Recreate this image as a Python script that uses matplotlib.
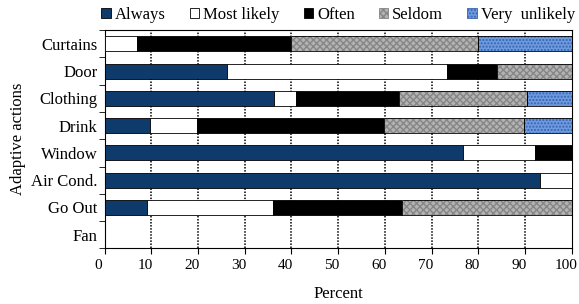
import matplotlib
matplotlib.use("Agg")
import matplotlib.pyplot as plt
import matplotlib.transforms as mtransforms
import numpy as np
from matplotlib.patches import Patch

plt.rcParams['font.family'] = ['Liberation Serif', 'DejaVu Serif']

categories = ["Curtains", "Door", "Clothing", "Drink", "Window", "Air Cond.", "Go Out", "Fan"]
series_names = ["Always", "Most likely", "Often", "Seldom", "Very  unlikely"]
always       = [0, 26.3, 36.3, 9.8, 76.7, 93.1, 9.0, 0]
most_likely  = [7.0, 47.1, 4.6, 9.9, 15.4, 6.9, 27.1, 0]
often        = [33.0, 10.7, 22.2, 40.2, 7.9, 0, 27.5, 0]
seldom       = [40.0, 15.9, 27.3, 29.9, 0, 0, 36.4, 0]
very_unlikely= [20.0, 0, 9.6, 10.2, 0, 0, 0, 0]
xticks = [0, 10, 20, 30, 40, 50, 60, 70, 80, 90, 100]

series = [always, most_likely, often, seldom, very_unlikely]
faces = ['#0e3a6c', 'white', 'black', '#b3b3b3', '#6d9be0']
hatches = [None, None, None, 'xxxxx', '.....']
hcolors = [None, None, None, '#868686', '#3a62ae']

fig = plt.figure(figsize=(5.79, 3.04), dpi=100)
ax = fig.add_axes([0.1805, 0.183, 0.807, 0.718])

y = np.arange(len(categories))
left = np.zeros(len(categories))
h = 0.55
for vals, fc, ht, hc in zip(series, faces, hatches, hcolors):
    vals = np.array(vals)
    if ht:
        ax.barh(y, vals, left=left, height=h, color=fc, hatch=ht, edgecolor=hc, linewidth=0, zorder=3)
        ax.barh(y, vals, left=left, height=h, facecolor='none', edgecolor='black', linewidth=0.6, zorder=4)
    else:
        ax.barh(y, vals, left=left, height=h, color=fc, edgecolor='black', linewidth=0.6, zorder=3)
    left += vals

for xv in xticks[1:-1]:
    ax.axvline(xv, color='black', linestyle=(0, (1, 1.0)), linewidth=1.1, zorder=1)

ax.set_xlim(0, 100)
ax.set_ylim(len(categories) - 0.5, -0.5)
ax.set_xticks(xticks)
ax.set_xticklabels([])
offset = mtransforms.ScaledTranslation(-6 / 100, -11 / 100, fig.dpi_scale_trans)
trans = ax.get_xaxis_transform() + offset
for v in xticks:
    ax.text(v, 0, str(v), transform=trans, ha='center', va='top', fontsize=11, clip_on=False)
ax.set_yticks(y)
ax.set_yticklabels(categories, fontsize=12)
ax.tick_params(axis='y', length=0, pad=5)
ax.set_yticks(np.arange(-0.5, len(categories) + 0.5, 1), minor=True)
ax.tick_params(axis='y', which='minor', length=4, direction='out')
ax.tick_params(axis='x', length=4, direction='out', pad=5)
for s in ax.spines.values():
    s.set_linewidth(0.8)
ax.set_xlabel("Percent", fontsize=12, labelpad=18)
ax.set_ylabel("Adaptive actions", fontsize=12, labelpad=4)

handles = []
for fc, ht, hc in zip(faces, hatches, hcolors):
    handles.append(Patch(facecolor=fc, edgecolor='black' if not ht else hc, hatch=ht, linewidth=0.6))
fig.legend(handles, series_names, loc='center', bbox_to_anchor=(0.584, 0.95), ncol=5,
           frameon=False, fontsize=12, handlelength=0.55, handleheight=0.55,
           handletextpad=0.25, columnspacing=1.45, borderaxespad=0)

fig.savefig("out.png", dpi=100)
